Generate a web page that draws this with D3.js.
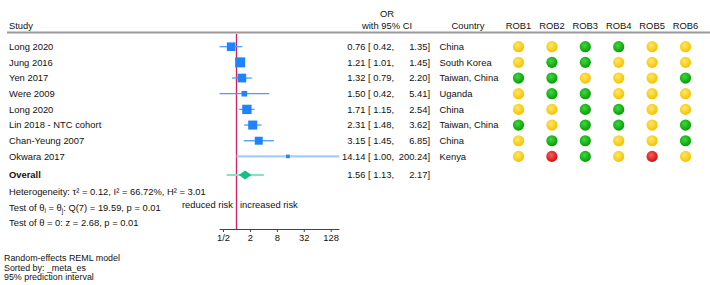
<!DOCTYPE html>
<html>
<head>
<meta charset="utf-8">
<script src="https://cdn.jsdelivr.net/npm/d3@7"></script>
<style>
  body { margin: 0; background: #fff; }
  svg { display: block; font-family: "Liberation Sans", Arial, Helvetica, sans-serif; }
  text { fill: #111; font-size: 9.4px; }
</style>
</head>
<body>
<div id="graphic"></div>
<script>
// study level data
const studies = ["Long 2020", "Jung 2016", "Yen 2017", "Were 2009", "Long 2020", "Lin 2018 - NTC cohort", "Chan-Yeung 2007", "Okwara 2017"];
const countries = ["China", "South Korea", "Taiwan, China", "Uganda", "China", "Taiwan, China", "China", "Kenya"];
const orValues = [0.76, 1.21, 1.32, 1.50, 1.71, 2.31, 3.15, 14.14];
const ciLower = [0.42, 1.01, 0.79, 0.42, 1.15, 1.48, 1.45, 1.00];
const ciUpper = [1.35, 1.45, 2.20, 5.41, 2.54, 3.62, 6.85, 200.24];
const weights = [14.0, 19.0, 14.5, 6.0, 16.5, 15.5, 12.0, 2.5]; // % weight

// overall estimate
const overall = { es: 1.56, lo: 1.13, hi: 2.17 };
const predInterval = [0.60, 4.10];

// risk of bias, y = some concerns, g = low, r = high
const robLabels = ["ROB1", "ROB2", "ROB3", "ROB4", "ROB5", "ROB6"];
const rob = [
  ["y", "y", "g", "g", "y", "y"],
  ["y", "g", "g", "y", "y", "y"],
  ["g", "g", "y", "y", "y", "g"],
  ["y", "g", "g", "y", "y", "y"],
  ["y", "y", "g", "g", "y", "y"],
  ["g", "y", "g", "g", "y", "g"],
  ["y", "g", "g", "y", "y", "g"],
  ["y", "r", "g", "y", "r", "y"]
];

const tickValues = [0.5, 2, 8, 32, 128];
const tickLabels = ["1/2", "2", "8", "32", "128"];
const footnotes = ["Random-effects REML model", "Sorted by: _meta_es", "95% prediction interval"];

const width = 710, height = 285;
const svg = d3.select('#graphic').append('svg').attr('width', width).attr('height', height);

// gradients for the rob dots
const defs = svg.append('defs');
const dotCols = { y: ["#ffe766", "#f5c400"], g: ["#3fd93f", "#06a006"], r: ["#ff5a5a", "#cc1414"] };
Object.keys(dotCols).forEach(k => {
  const g = defs.append('radialGradient').attr('id', 'dot-' + k)
    .attr('cx', '42%').attr('cy', '38%').attr('r', '60%');
  g.append('stop').attr('offset', '0%').attr('stop-color', dotCols[k][0]);
  g.append('stop').attr('offset', '100%').attr('stop-color', dotCols[k][1]);
});

// scales
const x = d3.scaleLog().base(2).domain([0.5, 128]).range([223, 330.7]);
const y = d3.scaleLinear().domain([0, 7]).range([46.7, 156.4]);
const robX = d3.scalePoint().domain(robLabels).range([518.5, 685.5]);
const size = d3.scaleSqrt().domain([0, d3.max(weights)]).range([0, 10]);

const yOverall = 175;
const axisY = 229.5;
const fmt = d3.format(".2f");

// header
svg.append('text').attr('x', 9).attr('y', 29).text('Study');
svg.append('text').attr('x', 387).attr('y', 16.5).attr('text-anchor', 'middle').text('OR');
svg.append('text').attr('x', 387).attr('y', 29).attr('text-anchor', 'middle').text('with 95% CI');
svg.append('text').attr('x', 468).attr('y', 29).attr('text-anchor', 'middle').text('Country');
svg.selectAll('.robhead').data(robLabels).join('text')
  .attr('x', d => robX(d)).attr('y', 29).attr('text-anchor', 'middle').text(d => d);

svg.append('line').attr('x1', 7).attr('x2', 710).attr('y1', 32.5).attr('y2', 32.5)
  .attr('stroke', '#9a9a9a').attr('stroke-width', 2);

// null line
svg.append('line').attr('x1', x(1)).attr('x2', x(1)).attr('y1', 34).attr('y2', axisY)
  .attr('stroke', '#d6215a').attr('stroke-width', 1.3);

// rows
const rows = svg.append('g').selectAll('g').data(studies).join('g')
  .attr('transform', (d, i) => 'translate(0,' + y(i) + ')');

rows.append('text').attr('x', 9).attr('y', 3.4).text(d => d);

rows.append('line')
  .attr('x1', (d, i) => x(ciLower[i])).attr('x2', (d, i) => x(ciUpper[i]))
  .attr('stroke', (d, i) => i == 7 ? '#a6cdfc' : '#4f9af7')
  .attr('stroke-width', (d, i) => i == 7 ? 2.2 : 1.3);

rows.append('rect')
  .attr('x', (d, i) => x(orValues[i]) - size(weights[i]) / 2)
  .attr('y', (d, i) => -size(weights[i]) / 2)
  .attr('width', (d, i) => size(weights[i]))
  .attr('height', (d, i) => size(weights[i]))
  .attr('fill', '#1f83fb');

rows.append('text').attr('x', 365.5).attr('y', 3.4).attr('text-anchor', 'end').text((d, i) => fmt(orValues[i]));
rows.append('text').attr('x', 368).attr('y', 3.4).text((d, i) => '[ ' + fmt(ciLower[i]) + ',');
rows.append('text').attr('x', 430).attr('y', 3.4).attr('text-anchor', 'end').text((d, i) => fmt(ciUpper[i]) + ']');
rows.append('text').attr('x', 439.5).attr('y', 3.4).text((d, i) => countries[i]);

rows.selectAll('circle').data((d, i) => rob[i]).join('circle')
  .attr('cx', (d, j) => robX(robLabels[j])).attr('cy', 0).attr('r', 5.6)
  .attr('fill', d => 'url(#dot-' + d + ')');

// overall
svg.append('line').attr('x1', x(predInterval[0])).attr('x2', x(predInterval[1]))
  .attr('y1', yOverall).attr('y2', yOverall).attr('stroke', '#8ee0c0').attr('stroke-width', 2);
svg.append('path')
  .attr('d', 'M' + x(overall.lo) + ',' + yOverall + 'L' + x(overall.es) + ',' + (yOverall - 4.5) +
    'L' + x(overall.hi) + ',' + yOverall + 'L' + x(overall.es) + ',' + (yOverall + 4.5) + 'Z')
  .attr('fill', '#16c085');
svg.append('text').attr('x', 9).attr('y', yOverall + 3.4).attr('font-weight', 'bold').text('Overall');
svg.append('text').attr('x', 365.5).attr('y', yOverall + 3.4).attr('text-anchor', 'end').text(fmt(overall.es));
svg.append('text').attr('x', 368).attr('y', yOverall + 3.4).text('[ ' + fmt(overall.lo) + ',');
svg.append('text').attr('x', 430).attr('y', yOverall + 3.4).attr('text-anchor', 'end').text(fmt(overall.hi) + ']');

// heterogeneity and tests
svg.append('text').attr('x', 9).attr('y', 195.1)
  .text('Heterogeneity: τ² = 0.12, I² = 66.72%, H² = 3.01');
const t2 = svg.append('text').attr('x', 9).attr('y', 210.7);
t2.append('tspan').text('Test of θ');
t2.append('tspan').attr('dy', 2).attr('font-size', '6.5px').text('i');
t2.append('tspan').attr('dy', -2).text(' = θ');
t2.append('tspan').attr('dy', 2).attr('font-size', '6.5px').text('j');
t2.append('tspan').attr('dy', -2).text(': Q(7) = 19.59, p = 0.01');
svg.append('text').attr('x', 9).attr('y', 225.7).text('Test of θ = 0: z = 2.68, p = 0.01');

svg.append('text').attr('x', x(1) - 3.5).attr('y', 207.7).attr('text-anchor', 'end').text('reduced risk');
svg.append('text').attr('x', x(1) + 3.5).attr('y', 207.7).text('increased risk');

// x axis
const axis = svg.append('g').attr('transform', 'translate(0,' + axisY + ')')
  .call(d3.axisBottom(x).tickValues(tickValues).tickFormat((d, i) => tickLabels[i]).tickSize(2.5).tickSizeOuter(0));
axis.select('.domain').attr('d', 'M' + x(d3.min(ciLower)) + ',0H' + x(d3.max(ciUpper))).attr('stroke', '#444');
axis.selectAll('.tick line').attr('stroke', '#444');
axis.selectAll('.tick text').attr('font-size', '9.4px').attr('font-family', null).attr('y', 5).attr('fill', '#111');

// footnotes
svg.selectAll('.foot').data(footnotes).join('text')
  .attr('x', 4).attr('y', (d, i) => 261.4 + i * 9.3).style('font-size', '8.9px').text(d => d);
</script>
</body>
</html>
